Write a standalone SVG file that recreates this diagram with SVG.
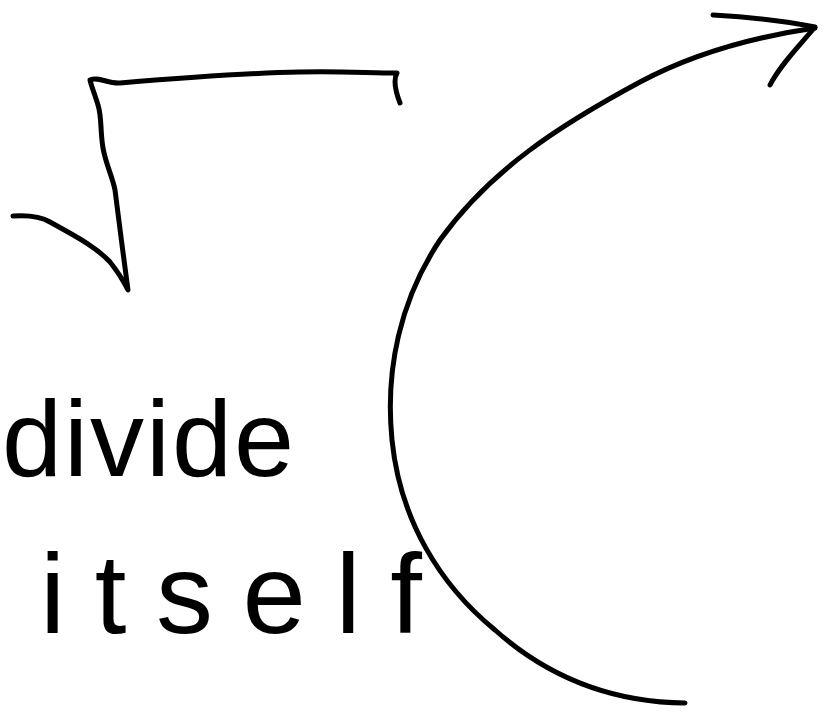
<svg xmlns="http://www.w3.org/2000/svg" width="825" height="712" viewBox="0 0 825 712">
<style>
.ink{fill:none;stroke:#000;stroke-width:5;stroke-linecap:round;stroke-linejoin:round}
.hand{font-family:"Liberation Sans","DejaVu Sans",sans-serif;fill:#000}
</style>
<rect width="825" height="712" fill="#fff"/>
<g id="sqrt">
<path class="ink" d="M13,216 C28,215 40,216 50,222 C75,236 95,246 110,262 C118,272 124,282 128,290 C124,260 118,215 115,190 C112,175 106,165 103,148 C100,130 102,118 98,105 C95,95 91,85 90,80 C98,76 108,84 120,83 C180,78 250,73 300,72 C340,71 370,73 397,73 C393,80 395,90 400,103"/>
</g>
<g id="text-divide">
<text class="hand" x="2" y="476" font-size="108" textLength="292" lengthAdjust="spacing">divide</text>
</g>
<g id="text-itself">
<text class="hand" x="40" y="633" font-size="114" textLength="382" lengthAdjust="spacing">itself</text>
</g>
<g id="connectors">
<path class="ink" d="M685,703 C600,702 540,670 495,630 C440,585 400,520 392,440 C385,370 400,300 440,240 C490,170 560,125 640,82 C700,50 760,36 815,28"/>
<path class="ink" d="M713,15 C750,17 785,21 815,27 C800,45 780,65 770,85"/>
</g>
</svg>
